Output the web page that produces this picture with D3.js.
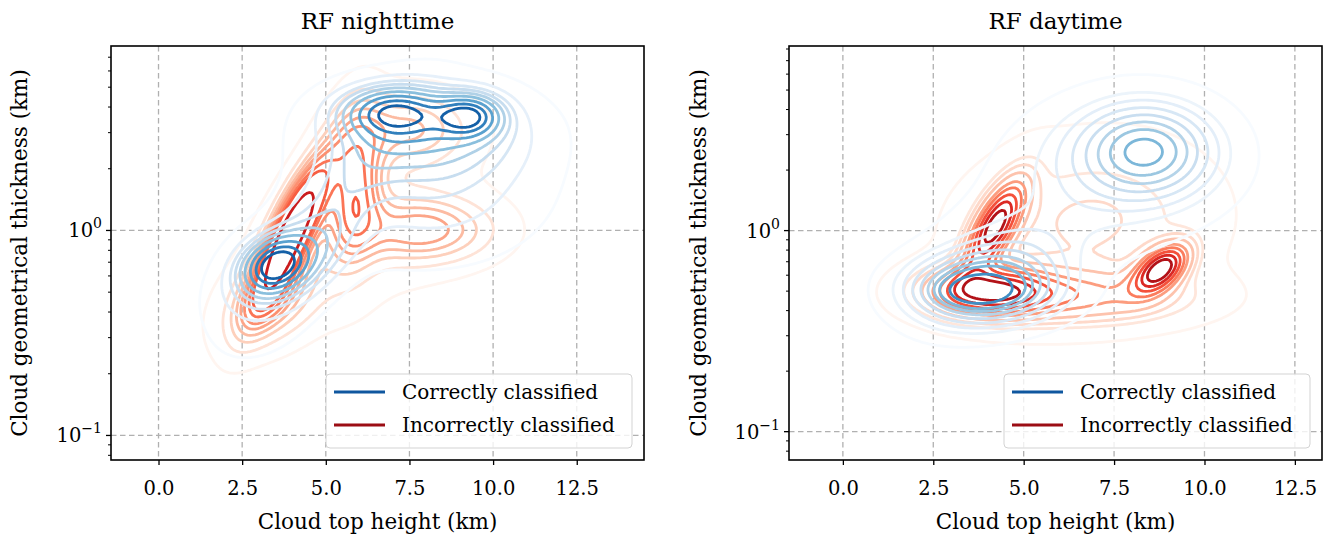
<!DOCTYPE html>
<html>
<head>
<meta charset="utf-8">
<script src="https://cdn.jsdelivr.net/npm/d3@7"></script>
<style>
  body { margin: 0; background: #fff; }
  svg { display: block; }
  text { font-family: "DejaVu Serif", serif; fill: #000; }
</style>
</head>
<body>
<div id="chart"></div>
<script>
// ---- data ----
const panelTitles = ['RF nighttime', 'RF daytime'];
const seriesNames = ['Correctly classified', 'Incorrectly classified'];
const xTicks = [0, 2.5, 5, 7.5, 10, 12.5];
const yMajorTicks = [0.1, 1];
const yTickExp = ['\u22121', '0'];

// KDE shape, as gaussian blobs in (cloud top height km, log10 thickness km):
// [centre x, centre log10 y, spread x, spread log10 y, correlation, weight]
const nightCorrect = [
  [3.45, -0.17, 0.65, 0.09, 0.2, 0.10],
  [4.0, -0.15, 1.1, 0.13, 0.5, 0.10],
  [3.2, -0.35, 1.2, 0.20, 0.3, 0.04],
  [7.0, 0.58, 1.0, 0.08, 0.0, 0.13],
  [9.3, 0.56, 0.65, 0.07, 0.0, 0.08],
  [8.0, 0.48, 1.8, 0.14, 0.0, 0.25],
  [8.3, 0.22, 2.0, 0.22, 0.0, 0.20],
  [5.3, 0.15, 1.5, 0.30, 0.8, 0.12],
  [6.0, 0.10, 3.0, 0.40, 0.5, 0.05]
];
const nightIncorrect = [
  [4.0, 0.00, 0.8, 0.25, 0.82, 0.16],
  [5.9, 0.22, 0.55, 0.25, 0.2, 0.09],
  [8.0, 0.00, 1.4, 0.11, 0.0, 0.08],
  [7.5, 0.50, 1.2, 0.12, 0.0, 0.06],
  [6.0, 0.00, 2.2, 0.30, 0.4, 0.10],
  [3.4, -0.35, 1.0, 0.15, 0.4, 0.06]
];
const dayCorrect = [
  [3.9, -0.29, 1.2, 0.10, 0.0, 0.20],
  [3.7, -0.30, 0.6, 0.045, 0.0, 0.03],
  [8.4, 0.40, 1.1, 0.14, 0.0, 0.20],
  [7.8, 0.35, 1.8, 0.20, 0.0, 0.15],
  [5.5, 0.00, 2.5, 0.30, 0.5, 0.12],
  [4.2, -0.22, 1.2, 0.15, 0.4, 0.10]
];
const dayIncorrect = [
  [4.2, 0.02, 0.55, 0.15, 0.7, 0.10],
  [4.0, -0.30, 1.1, 0.08, 0.0, 0.13],
  [8.8, -0.19, 0.5, 0.08, 0.5, 0.06],
  [6.5, -0.33, 2.0, 0.09, 0.0, 0.12],
  [7.0, 0.05, 2.0, 0.22, 0.0, 0.10],
  [6.3, 0.00, 2.4, 0.33, 0.3, 0.10]
];

// seaborn kdeplot defaults: 10 levels, thresh 0.05
const kdeLevels = 10;
const kdeThresh = 0.05;

const W = 1328, H = 535;
const panels = [
  { title: panelTitles[0], left: 111, right: 644, xDomain: [-1.42, 14.51], yDomain: [0.0759, 7.94],
    correct: nightCorrect, incorrect: nightIncorrect, ylabelX: 27 },
  { title: panelTitles[1], left: 789, right: 1322, xDomain: [-1.49, 13.25], yDomain: [0.0723, 8.28],
    correct: dayCorrect, incorrect: dayIncorrect, ylabelX: 706 }
];
const plotTop = 46, plotBottom = 460;

const svg = d3.select('#chart').append('svg')
  .attr('width', W).attr('height', H)
  .attr('viewBox', `0 0 ${W} ${H}`);

// density on a grid in (x, log10 y)
function densityGrid(comps, xr, lr, nx, ny) {
  const vals = new Float64Array(nx * ny);
  const dx = (xr[1] - xr[0]) / (nx - 1), dl = (lr[1] - lr[0]) / (ny - 1);
  for (let j = 0; j < ny; j++) {
    const ly = lr[0] + j * dl;
    for (let i = 0; i < nx; i++) {
      const x = xr[0] + i * dx;
      let s = 0;
      for (const [cx, cy, sx, sy, r, w] of comps) {
        const u = (x - cx) / sx, v = (ly - cy) / sy;
        const q = (u * u - 2 * r * u * v + v * v) / (1 - r * r);
        s += w / (2 * Math.PI * sx * sy * Math.sqrt(1 - r * r)) * Math.exp(-q / 2);
      }
      vals[i + j * nx] = s;
    }
  }
  return { vals, dx, dl };
}

// iso-proportion levels, same rule as seaborn
function isoLevels(vals) {
  const sorted = Array.from(vals).sort((a, b) => b - a);
  const total = d3.sum(sorted);
  const cum = [];
  let acc = 0;
  for (const v of sorted) { acc += v; cum.push(acc / total); }
  const props = d3.range(kdeLevels).map(i => kdeThresh + i * (1 - kdeThresh) / (kdeLevels - 1));
  return props.map(p => {
    const idx = d3.bisectLeft(cum, 1 - p);
    return sorted[Math.min(idx, sorted.length - 1)];
  });
}

panels.forEach((p, pi) => {
  const x = d3.scaleLinear().domain(p.xDomain).range([p.left, p.right]);
  const y = d3.scaleLog().domain(p.yDomain).range([plotBottom, plotTop]);
  const g = svg.append('g');

  const clipId = `clip-${pi}`;
  svg.append('defs').append('clipPath').attr('id', clipId)
    .append('rect').attr('x', p.left).attr('y', plotTop)
    .attr('width', p.right - p.left).attr('height', plotBottom - plotTop);

  // grid
  g.selectAll('.gx').data(xTicks).enter().append('line')
    .attr('x1', d => x(d)).attr('x2', d => x(d))
    .attr('y1', plotTop).attr('y2', plotBottom)
    .attr('stroke', '#b0b0b0').attr('stroke-width', 1.3).attr('stroke-dasharray', '5.5,3.5');
  g.selectAll('.gy').data(yMajorTicks).enter().append('line')
    .attr('x1', p.left).attr('x2', p.right)
    .attr('y1', d => y(d)).attr('y2', d => y(d))
    .attr('stroke', '#b0b0b0').attr('stroke-width', 1.3).attr('stroke-dasharray', '5.5,3.5');

  // contours
  const nx = 260, ny = 220;
  const xr = [p.xDomain[0] - 2, p.xDomain[1] + 2];
  const lr = [Math.log10(p.yDomain[0]) - 0.4, Math.log10(p.yDomain[1]) + 0.4];
  const cg = g.append('g').attr('clip-path', `url(#${clipId})`);

  [[p.incorrect, d3.interpolateReds], [p.correct, d3.interpolateBlues]].forEach(([comps, cmap]) => {
    const { vals, dx, dl } = densityGrid(comps, xr, lr, nx, ny);
    const levels = isoLevels(vals);
    const lo = levels[0], hi = levels[levels.length - 1];
    const proj = d3.geoTransform({
      point: function (gx, gy) {
        this.stream.point(x(xr[0] + (gx - 0.5) * dx), y(Math.pow(10, lr[0] + (gy - 0.5) * dl)));
      }
    });
    const path = d3.geoPath(proj);
    const shapes = d3.contours().size([nx, ny]).thresholds(levels.slice(0, -1))(vals);
    cg.selectAll(null).data(shapes).enter().append('path')
      .attr('d', path)
      .attr('fill', 'none')
      .attr('stroke', d => cmap((d.value - lo) / (hi - lo)))
      .attr('stroke-width', 2.8)
      .attr('stroke-linejoin', 'round');
  });

  // axes
  g.append('g').attr('transform', `translate(0,${plotBottom})`)
    .call(d3.axisBottom(x).tickValues(xTicks).tickFormat(d3.format('.1f')).tickSize(5).tickPadding(16))
    .call(a => a.select('.domain').remove())
    .call(a => a.selectAll('line').attr('stroke-width', 1.3))
    .call(a => a.selectAll('text').style('font-size', '19.5px').style('font-family', '"DejaVu Serif", serif'));

  const minor = y.ticks().filter(t => !yMajorTicks.some(m => Math.abs(m - t) < 1e-9));
  g.selectAll('.ymin').data(minor).enter().append('line')
    .attr('x1', p.left - 3).attr('x2', p.left)
    .attr('y1', d => y(d)).attr('y2', d => y(d))
    .attr('stroke', '#000').attr('stroke-width', 1);
  g.selectAll('.ymaj').data(yMajorTicks).enter().append('line')
    .attr('x1', p.left - 5).attr('x2', p.left)
    .attr('y1', d => y(d)).attr('y2', d => y(d))
    .attr('stroke', '#000').attr('stroke-width', 1.3);
  const yl = g.selectAll('.ylab').data(yMajorTicks).enter().append('text')
    .attr('x', p.left - 9).attr('y', d => y(d) + 7)
    .attr('text-anchor', 'end').style('font-size', '19.5px');
  yl.append('tspan').text('10');
  yl.append('tspan').attr('dy', -9).style('font-size', '14px').text((d, i) => yTickExp[i]);

  // frame
  g.append('rect').attr('x', p.left).attr('y', plotTop)
    .attr('width', p.right - p.left).attr('height', plotBottom - plotTop)
    .attr('fill', 'none').attr('stroke', '#000').attr('stroke-width', 1.6);

  // labels
  const cx = (p.left + p.right) / 2;
  g.append('text').attr('x', cx).attr('y', 29).attr('text-anchor', 'middle')
    .style('font-size', '23px').text(p.title);
  g.append('text').attr('x', cx).attr('y', 529).attr('text-anchor', 'middle')
    .style('font-size', '21.5px').text('Cloud top height (km)');
  g.append('text').attr('transform', `translate(${p.ylabelX},${(plotTop + plotBottom) / 2}) rotate(-90)`)
    .attr('text-anchor', 'middle').style('font-size', '21.5px')
    .text('Cloud geometrical thickness (km)');

  // legend
  const lw = 306, lh = 74;
  const lg = g.append('g').attr('transform', `translate(${p.right - 12 - lw},${plotBottom - 12 - lh})`);
  lg.append('rect').attr('width', lw).attr('height', lh).attr('rx', 4)
    .attr('fill', 'rgba(255,255,255,0.8)').attr('stroke', '#d3d3d3').attr('stroke-width', 1);
  const legendColors = [d3.interpolateBlues(0.85), d3.interpolateReds(0.89)];
  seriesNames.forEach((name, i) => {
    const yy = 18 + i * 33;
    lg.append('line').attr('x1', 8).attr('x2', 59).attr('y1', yy).attr('y2', yy)
      .attr('stroke', legendColors[i]).attr('stroke-width', 3);
    lg.append('text').attr('x', 76).attr('y', yy + 7).style('font-size', '20px').text(name);
  });
});
</script>
</body>
</html>
